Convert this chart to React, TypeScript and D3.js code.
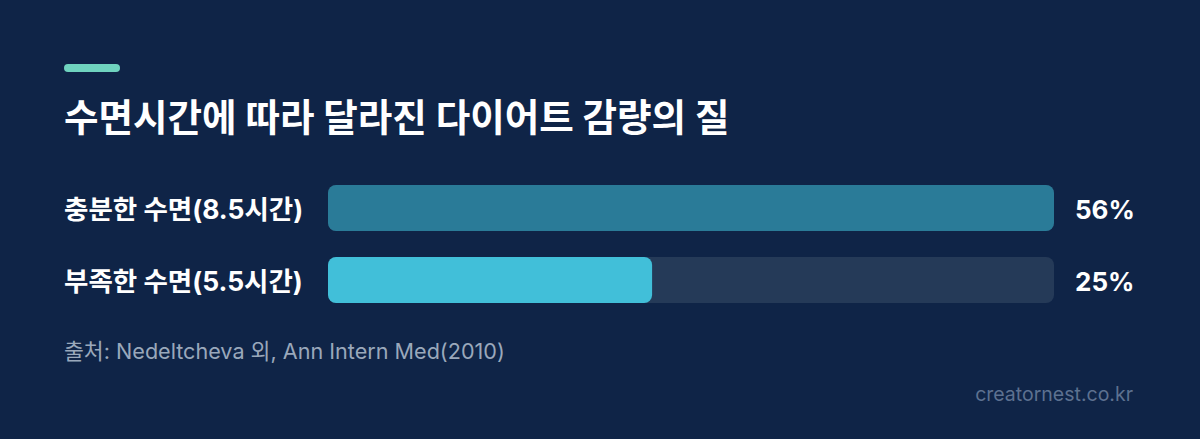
import React from "react";
import * as d3 from "d3";

const title = "수면시간에 따라 달라진 다이어트 감량의 질";
const categories = ["충분한 수면(8.5시간)", "부족한 수면(5.5시간)"];
const values = [56, 25];
const valueLabels = ["56%", "25%"];
const barColors = ["#2a7b98", "#41bfd9"];
const source = "출처: Nedeltcheva 외, Ann Intern Med(2010)";
const watermark = "creatornest.co.kr";

const W = 1200;
const H = 439;
const FONT = "Inter, 'Noto Sans CJK KR', 'Noto Sans', sans-serif";

export default function App() {
  const x = d3.scaleLinear().domain([0, d3.max(values) as number]).range([328, 1054]);
  const y = d3.scaleBand<string>().domain(categories).range([185, 303]).paddingInner(26 / 72).paddingOuter(0);
  const bh = y.bandwidth();
  return (
    <div style={{ position: "fixed", left: 0, top: 0, width: W, height: H }}>
      <svg width={W} height={H} style={{ display: "block" }}>
        <rect x={0} y={0} width={W} height={H} fill="#0f2447" />
        <rect x={64} y={64} width={56} height={8} rx={4} fill="#6fd3bf" />
        <text x={64} y={131} fill="#ffffff" fontFamily={FONT} fontWeight={700} fontSize={37.5}>
          {title}
        </text>
        {categories.map((c, i) => {
          const yy = y(c) as number;
          return (
            <g key={c}>
              <text x={64} y={yy + bh / 2 + 1} dominantBaseline="central" fill="#ffffff" fontFamily={FONT} fontWeight={700} fontSize={26.5}>
                {c}
              </text>
              <rect x={x(0)} y={yy} width={x(56) - x(0)} height={bh} rx={8} fill="#253a58" />
              <rect x={x(0)} y={yy} width={x(values[i]) - x(0)} height={bh} rx={8} fill={barColors[i]} />
              <text x={1075} y={yy + bh / 2 + 1} dominantBaseline="central" fill="#ffffff" fontFamily={FONT} fontWeight={700} fontSize={26}>
                {valueLabels[i]}
              </text>
            </g>
          );
        })}
        <text x={64} y={359} fill="#9aa8bb" fontFamily={FONT} fontSize={21.6}>
          {source}
        </text>
        <text x={1133} y={401} textAnchor="end" fill="#5d7190" fontFamily={FONT} fontSize={19.5}>
          {watermark}
        </text>
      </svg>
    </div>
  );
}
